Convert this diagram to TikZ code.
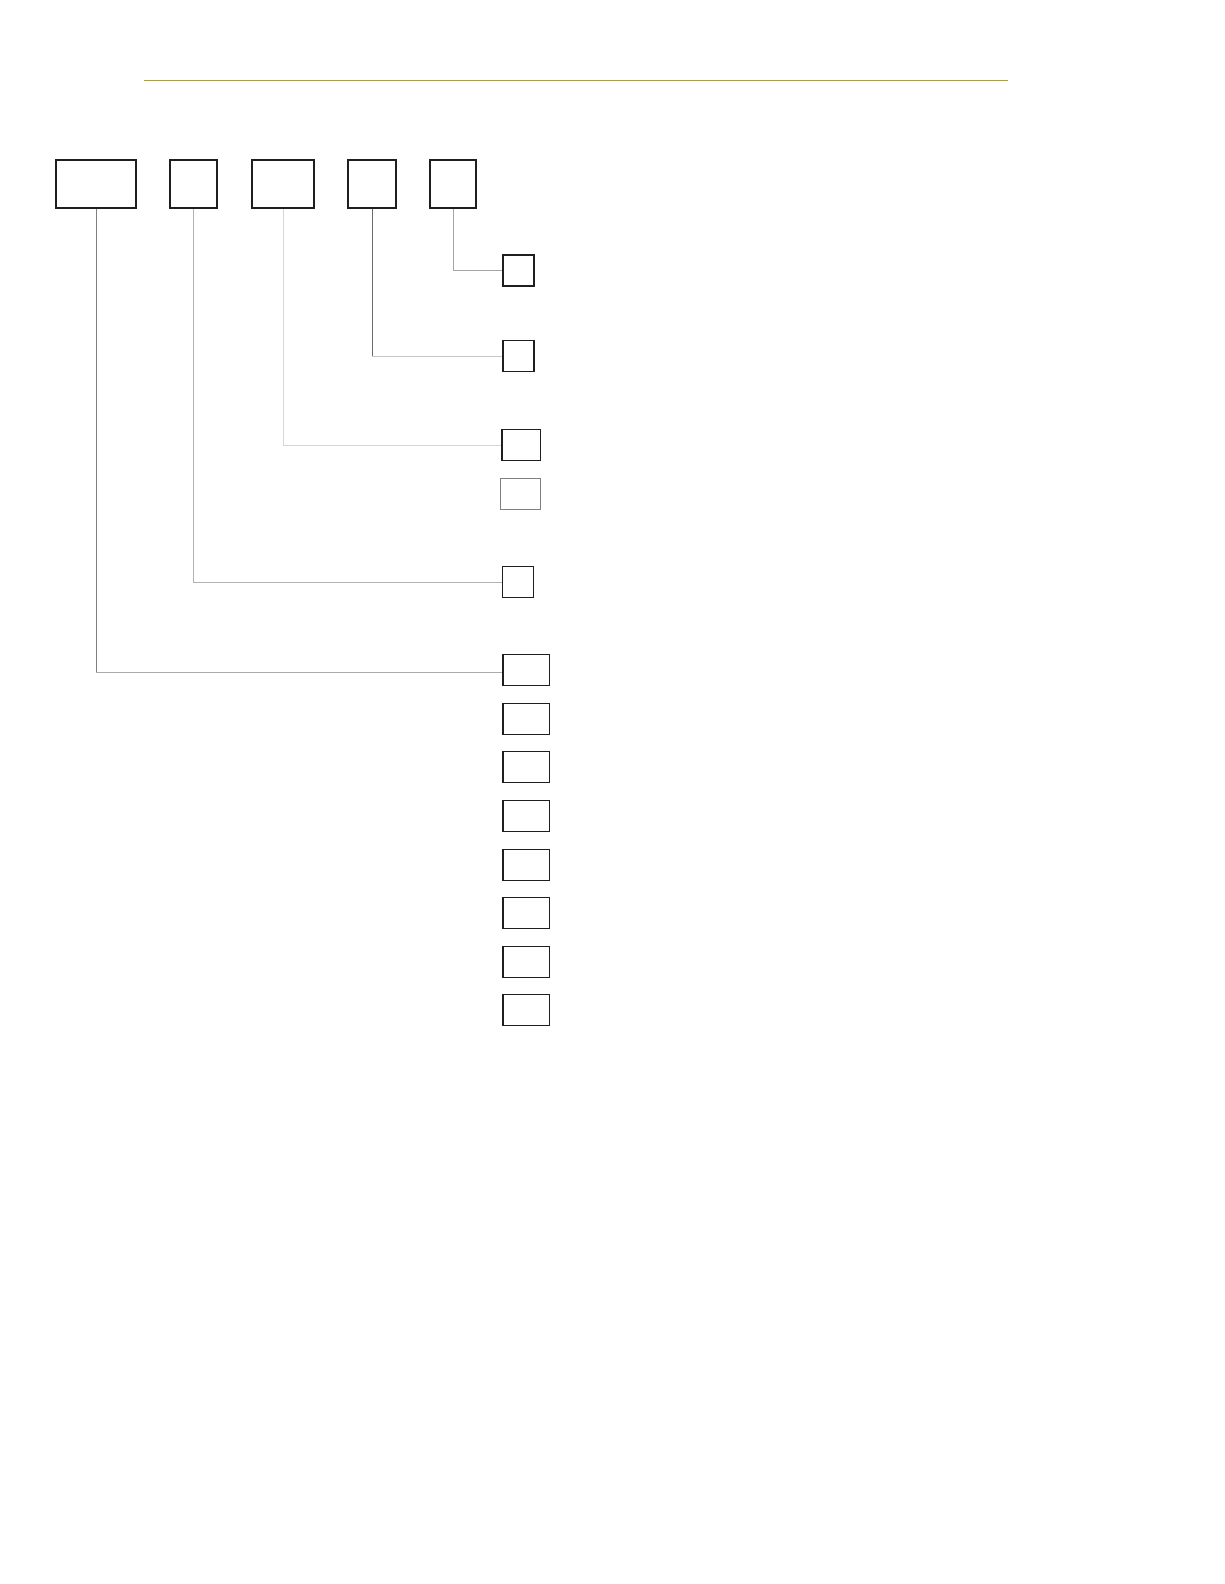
\documentclass[tikz,border=0pt]{standalone}
\begin{document}
\begin{tikzpicture}[x=1pt,y=-1pt,
  topbox/.style={draw=black!88,line width=2pt,rectangle,inner sep=0pt,minimum height=48pt},
  smallbox/.style={draw=black!88,line width=1.2pt,rectangle,inner sep=0pt,minimum height=31pt},
  link/.style={line width=1pt}]
\useasboundingbox (0,0) rectangle (1224,1584);
\fill[white] (0,0) rectangle (1224,1584);
\definecolor{rulegold}{HTML}{C4A000}
\coordinate (L1) at (144,80.3);
\coordinate (L2) at (1007.7,80.3);
\draw[rulegold,line width=1.5pt] (L1) -- (L2);
% top boxes
\node[topbox,minimum width=80pt] (T1) at (96.3,184.3) {};
\node[topbox,minimum width=47.6pt] (T2) at (193.5,184.3) {};
\node[topbox,minimum width=62.6pt] (T3) at (283,184.3) {};
\node[topbox,minimum width=48pt] (T4) at (372.3,184.3) {};
\node[topbox,minimum width=46.6pt] (T5) at (453,184.3) {};
% small boxes
\node[smallbox,minimum width=31pt] (S1) at (518.5,270.4) {};
\node[smallbox,minimum width=31pt] (S2) at (518.5,356.2) {};
\node[smallbox,minimum width=38.8pt] (S3) at (521.3,445.3) {};
\node[smallbox,draw=black!50,line width=1pt,minimum width=39.8pt] (S4) at (520.8,494.3) {};
\node[smallbox,minimum width=31pt] (S5) at (518.3,582.2) {};
\foreach \i/\y in {6/670.3,7/718.8,8/767.3,9/815.8,10/864.8,11/913.3,12/961.8,13/1010.3}
  \node[smallbox,minimum width=46.8pt] (S\i) at (526.3,\y) {};
% connectors
\coordinate (C5) at (T5.south |- S1.west);
\draw[link,draw=black!35] (T5.south) -- (C5) -- (S1.west);
\coordinate (C4) at (T4.south |- S2.west);
\draw[link,draw=black!58] (T4.south) -- (C4);
\draw[link,draw=black!22] (C4) -- (S2.west);
\coordinate (C3) at (T3.south |- S3.west);
\draw[link,draw=black!16] (T3.south) -- (C3) -- (S3.west);
\coordinate (C2) at (T2.south |- S5.west);
\draw[link,draw=black!30] (T2.south) -- (C2) -- (S5.west);
\coordinate (E1) at ([yshift=-2pt]S6.west);
\coordinate (C1) at (T1.south |- E1);
\draw[link,draw=black!50] (T1.south) -- (C1);
\draw[link,draw=black!33] (C1) -- (E1);
\end{tikzpicture}
\end{document}
